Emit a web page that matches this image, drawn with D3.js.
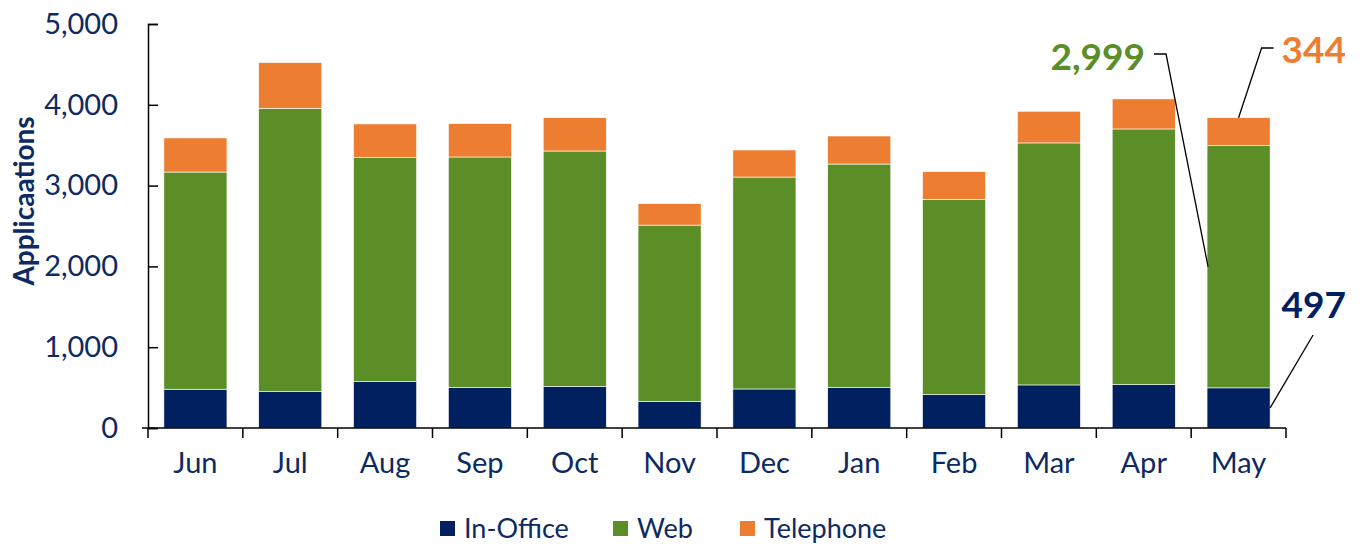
<!DOCTYPE html>
<html>
<head>
<meta charset="utf-8">
<script src="https://cdn.jsdelivr.net/npm/d3@7"></script>
<style>
body { margin: 0; background: #fff; }
text { font-family: Lato, "Open Sans", sans-serif; }
</style>
</head>
<body>
<div id="chart"></div>
<script>
width = 1364
height = 544

// data
let months = ["Jun", "Jul", "Aug", "Sep", "Oct", "Nov", "Dec", "Jan", "Feb", "Mar", "Apr", "May"]
let inOffice = [480, 450, 574, 500, 516, 330, 483, 504, 413, 533, 537, 497]
let web = [2688, 3507, 2772, 2854, 2912, 2181, 2623, 2763, 2416, 2995, 3164, 2999]
let telephone = [422, 566, 417, 413, 413, 265, 335, 347, 343, 392, 372, 344]
let seriesNames = ["In-Office", "Web", "Telephone"]
let yTicks = [0, 1000, 2000, 3000, 4000, 5000]

let colors = ["#002060", "#5B8E27", "#ED7D31"]
let textColor = "#0D2A63"

let margin = {top: 24, right: 78, bottom: 116, left: 148}
let plotW = width - margin.left - margin.right
let plotH = height - margin.top - margin.bottom

let svg = d3.select("#chart")
.append("svg")
.attr("width", width)
.attr("height", height)

let g = svg.append("g")
.attr("transform", "translate(" + margin.left + "," + margin.top + ")")

let rows = months.map((m, i) => ({month: m, "In-Office": inOffice[i], "Web": web[i], "Telephone": telephone[i]}))
let stacked = d3.stack().keys(seriesNames)(rows)

let x = d3.scaleBand()
.domain(months)
.range([0, plotW])
.paddingInner(0.335)
.paddingOuter(0.1675)

let y = d3.scaleLinear()
.domain([0, 5000])
.range([plotH, 0])

// bars
stacked.forEach((layer, li) => {
	g.append("g")
	.selectAll("rect")
	.data(layer)
	.join("rect")
	.attr("x", d => x(d.data.month))
	.attr("y", d => y(d[1]))
	.attr("width", x.bandwidth())
	.attr("height", d => y(d[0]) - y(d[1]))
	.attr("fill", colors[li])
	.attr("stroke", "#ffffff")
	.attr("stroke-width", 0.6)
})

// y axis
let yAxis = g.append("g")
.call(d3.axisLeft(y).tickValues(yTicks).tickSize(-10).tickPadding(30).tickFormat(d3.format(",")))
yAxis.select(".domain").attr("stroke", "#000").attr("stroke-width", 1.5)
yAxis.selectAll(".tick line").attr("stroke", "#000").attr("stroke-width", 1.5)
yAxis.selectAll(".tick text")
.attr("fill", textColor)
.attr("font-size", 29)
.attr("font-family", "Lato, sans-serif")

// x axis with ticks on band edges
let xAxis = g.append("g")
.attr("transform", "translate(0," + plotH + ")")
xAxis.append("line")
.attr("x1", -6).attr("x2", plotW)
.attr("stroke", "#000").attr("stroke-width", 1.5)
xAxis.selectAll("line.edge")
.data(months.concat(["end"]))
.join("line")
.attr("class", "edge")
.attr("x1", (d, i) => i * x.step())
.attr("x2", (d, i) => i * x.step())
.attr("y1", 0).attr("y2", 10)
.attr("stroke", "#000").attr("stroke-width", 1.5)
xAxis.selectAll("text")
.data(months)
.join("text")
.attr("x", d => x(d) + x.bandwidth() / 2)
.attr("y", 45)
.attr("text-anchor", "middle")
.attr("fill", textColor)
.attr("font-size", 29)
.text(d => d)

// y axis title
svg.append("text")
.attr("transform", "translate(34,201) rotate(-90)")
.attr("text-anchor", "middle")
.attr("fill", textColor)
.attr("font-size", 28)
.attr("font-weight", "bold")
.text("Applicaations")

// callouts for the last month
let last = stacked.map(layer => layer[layer.length - 1])
let lx0 = margin.left + x(months[11])
let lx1 = lx0 + x.bandwidth()
let lxc = lx0 + x.bandwidth() / 2
let ys = last.map(d => margin.top + y((d[0] + d[1]) / 2))
let fmt = d3.format(",")

let callout = svg.append("g")
.attr("fill", "none")
.attr("stroke", "#000")
.attr("stroke-width", 1.3)

// Telephone: from bar top
callout.append("polyline")
.attr("points", [[lxc, margin.top + y(last[2][1])], [lxc + 23, 48], [lxc + 35, 48]].join(" "))
// Web: from the left edge, middle of segment
callout.append("polyline")
.attr("points", [[lx0 + 1, ys[1]], [lx0 - 41, 54], [lx0 - 53, 54]].join(" "))
// In-Office: from the right edge, middle of segment
callout.append("line")
.attr("x1", lx1).attr("y1", ys[0])
.attr("x2", lx1 + 43).attr("y2", 335)

svg.append("text")
.attr("x", 1346).attr("y", 63)
.attr("text-anchor", "end")
.attr("fill", colors[2])
.attr("font-size", 37)
.attr("font-weight", "bold")
.text(fmt(last[2][1] - last[2][0]))

svg.append("text")
.attr("x", 1145).attr("y", 70)
.attr("text-anchor", "end")
.attr("fill", colors[1])
.attr("font-size", 37)
.attr("font-weight", "bold")
.text(fmt(last[1][1] - last[1][0]))

svg.append("text")
.attr("x", 1346).attr("y", 318)
.attr("text-anchor", "end")
.attr("fill", colors[0])
.attr("font-size", 37)
.attr("font-weight", "bold")
.text(fmt(last[0][1] - last[0][0]))

// legend
let legendX = [440, 613, 740]
let legend = svg.append("g")
seriesNames.forEach((name, i) => {
	let row = legend.append("g")
	.attr("transform", "translate(" + legendX[i] + ",521)")
	row.append("rect")
	.attr("width", 15)
	.attr("height", 15)
	.attr("fill", colors[i])
	row.append("text")
	.attr("x", 24)
	.attr("y", 17)
	.attr("fill", textColor)
	.attr("font-size", 27)
	.text(name)
})
</script>
</body>
</html>
